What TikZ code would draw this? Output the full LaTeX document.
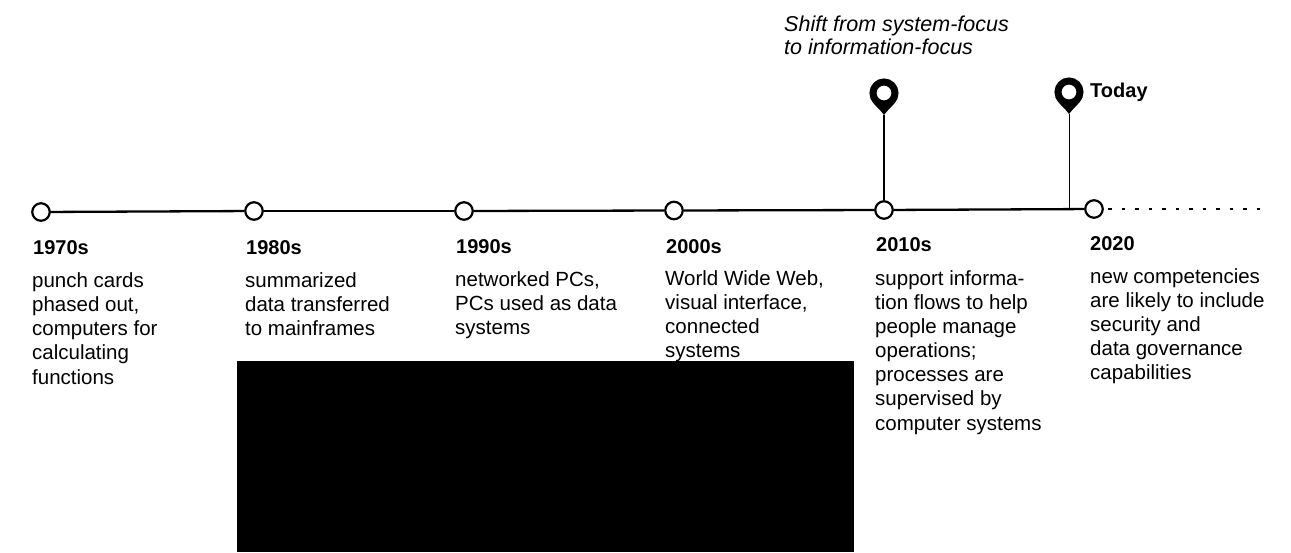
\documentclass[tikz,border=0pt]{standalone}
\usepackage{fontspec}
\setmainfont{Liberation Sans}
\begin{document}
\begin{tikzpicture}
  [x=1pt,y=-1pt,
   dot/.style={circle,draw,line width=2.2pt,fill=white,minimum size=17.5pt,inner sep=0pt},
   pin/.style={circle,draw,line width=7pt,fill=white,minimum size=22pt,inner sep=0pt},
   year/.style={anchor=base west,inner sep=0pt,font=\fontsize{20}{24}\selectfont\bfseries},
   body/.style={anchor=base west,inner sep=0pt,align=left,font=\fontsize{20.5}{24.1}\selectfont},
   note/.style={anchor=base west,inner sep=0pt,align=left,font=\fontsize{21.5}{23.5}\selectfont\itshape}]
  \useasboundingbox (0,0) rectangle (1291,552);

  \node[dot] (d70) at (41,212) {};
  \node[dot] (d80) at (254,211) {};
  \node[dot] (d90) at (464,211) {};
  \node[dot] (d00) at (674,210.5) {};
  \node[dot] (d10) at (884,210) {};
  \node[dot] (d20) at (1094,209) {};
  \coordinate (future) at (1270,209);
  \coordinate (tip10) at (884,115);
  \coordinate (tip20) at (1069,114);
  \coordinate (foot20) at (1069,209);

  \foreach \n/\x/\y in {pin10/884/93,pin20/1069/92} {
    \fill (\x-13.5,\y+5) .. controls (\x-11,\y+12) and (\x-4,\y+16) .. (\x,\y+22)
      .. controls (\x+4,\y+16) and (\x+11,\y+12) .. (\x+13.5,\y+5) -- cycle;
    \node[pin] (\n) at (\x,\y) {};
  }

  \foreach \from/\to in {d70/d80,d80/d90,d90/d00,d00/d10,d10/d20}
    \draw[line width=2.3pt] (\from) -- (\to);
  \draw[line width=2.2pt,dash pattern=on 3.5pt off 10pt,dash phase=9pt] (d20) -- (future);
  \draw[line width=1.2pt] (tip10) -- (d10);
  \draw[line width=.9pt] (tip20) -- (foot20);

  \node[year] (y70) at (33,254) {1970s};
  \node[year] (y80) at (246,254) {1980s};
  \node[year] (y90) at (456,253) {1990s};
  \node[year] (y00) at (666,253) {2000s};
  \node[year] (y10) at (876,251) {2010s};
  \node[year] (y20) at (1090,250) {2020};

  % y is the baseline of the last line
  \node[body] (t70) at (32,384) {punch cards\\phased out,\\computers for\\calculating\\functions};
  \node[body] (t80) at (245,335.2) {summarized\\data transferred\\to mainframes};
  \node[body] (t90) at (455,334.2) {networked PCs,\\PCs used as data\\systems};
  \node[body] (t00) at (665,357.3) {World Wide Web,\\visual interface,\\connected\\systems};
  \node[body] (t10) at (875,430) {support informa-\\tion flows to help\\people manage\\operations;\\processes are\\supervised by\\computer systems};
  \node[body] (t20) at (1090,379.4) {new competencies\\are likely to include\\security and\\data governance\\capabilities};

  \node[note] (shift) at (784,54.5) {Shift from system-focus\\to information-focus};
  \node[year] (today) at (1090,97) {Today};

  \fill (237,361) rectangle (854,552);
\end{tikzpicture}
\end{document}
